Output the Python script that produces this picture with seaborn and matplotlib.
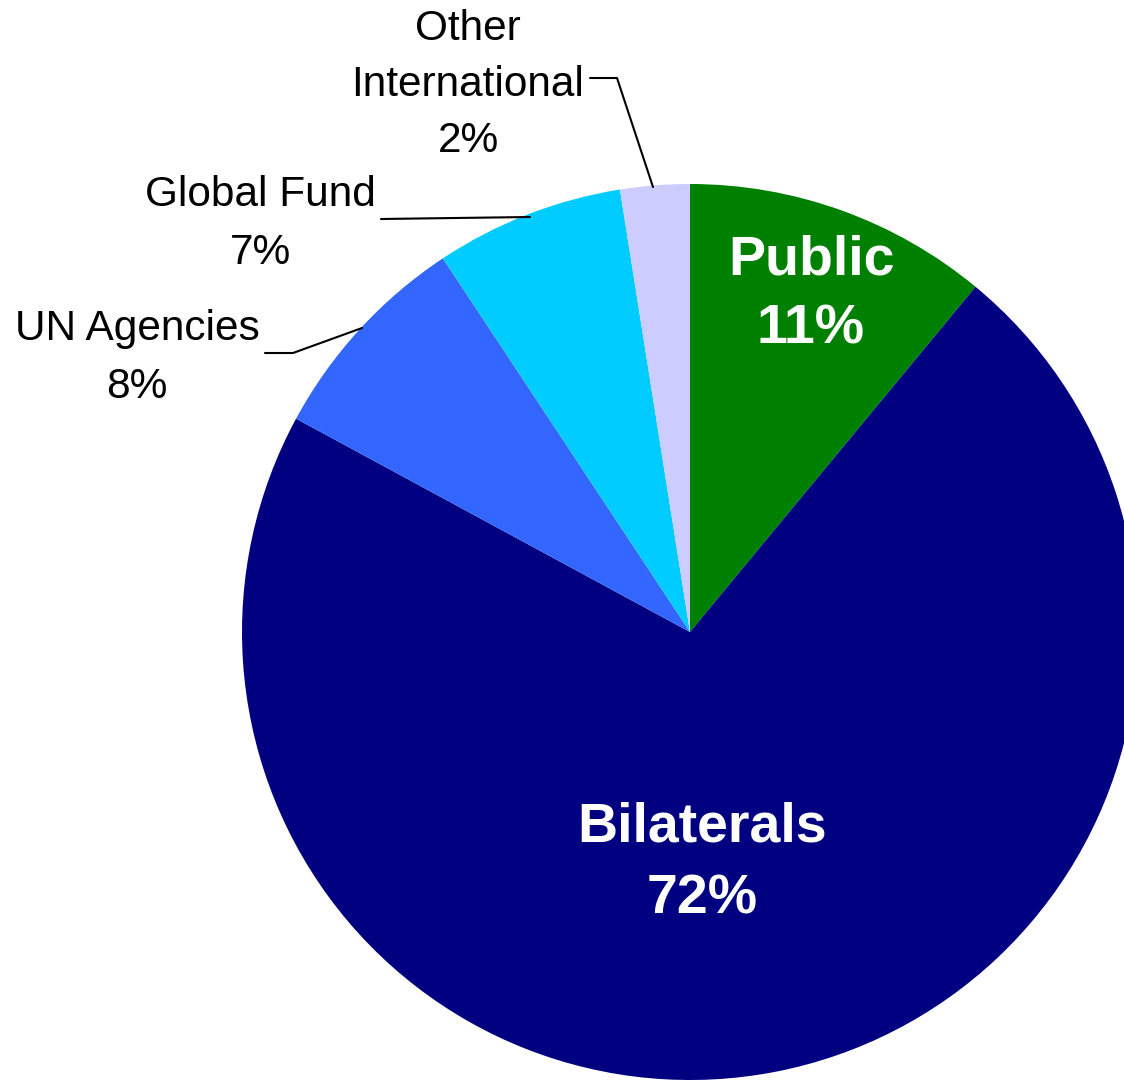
import matplotlib
matplotlib.use("Agg")
import matplotlib.pyplot as plt
import seaborn as sns

sns.set_theme(style="white")
plt.rcParams['font.family'] = ['Liberation Sans', 'DejaVu Sans']

categories = ["Public", "Bilaterals", "UN Agencies", "Global Fund", "Other International"]
values = [11.0, 71.9, 7.8, 6.8, 2.5]
pct_labels = ["11%", "72%", "8%", "7%", "2%"]
colors = ["#008000", "#000080", "#3366FF", "#00CCFF", "#CCCCFF"]

W, H = 1124, 1080
fig = plt.figure(figsize=(W / 100, H / 100), dpi=100)
ax = fig.add_axes([0, 0, 1, 1])
ax.set_xlim(0, W)
ax.set_ylim(0, H)
ax.set_aspect("equal")
ax.axis("off")

def Y(y):
    return H - y

cx, cy, r = 690, 632, 448
ax.pie(values, colors=colors, startangle=90, counterclock=False,
       center=(cx, Y(cy)), radius=r, frame=True,
       wedgeprops=dict(linewidth=0))
ax.set_xlim(0, W)
ax.set_ylim(0, H)
ax.axis("off")

# inside labels
ax.text(811, Y(295), f"{categories[0]}\n{pct_labels[0]}", color="white",
        fontsize=40, fontweight="bold", ha="center", va="center", linespacing=1.43)
ax.text(702, Y(863), f"{categories[1]}\n{pct_labels[1]}", color="white",
        fontsize=40, fontweight="bold", ha="center", va="center", linespacing=1.5)

# outside labels
ax.text(137, Y(358), f"{categories[2]}\n{pct_labels[2]}", color="black",
        fontsize=30.5, ha="center", va="center", linespacing=1.55)
ax.text(260, Y(224), f"Global Fund\n{pct_labels[3]}", color="black",
        fontsize=30.5, ha="center", va="center", linespacing=1.55)
ax.text(468, Y(85), f"Other\nInternational\n{pct_labels[4]}", color="black",
        fontsize=30.5, ha="center", va="center", linespacing=1.52)

# leader lines
ax.plot([265, 293, 362], [Y(353), Y(353), Y(328)], color="black", lw=1.5)
ax.plot([381, 530], [Y(219), Y(217)], color="black", lw=1.5)
ax.plot([590, 617, 653], [Y(78), Y(78), Y(187)], color="black", lw=1.5)

fig.savefig("out.png", dpi=100, facecolor="white")
